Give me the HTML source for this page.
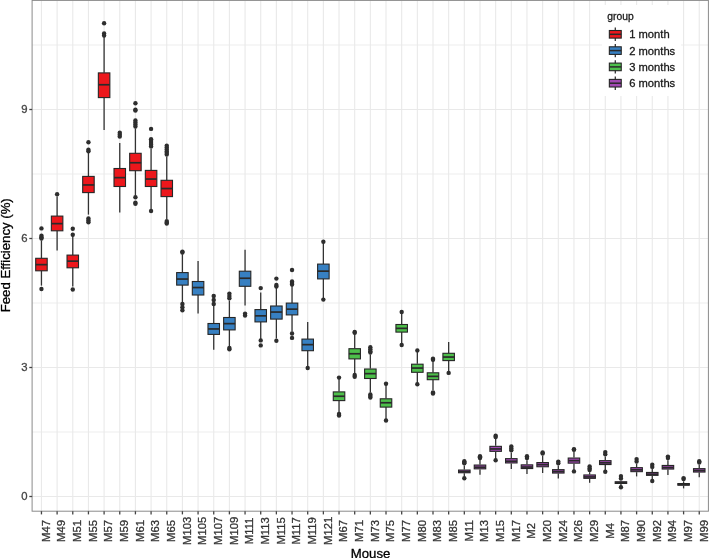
<!DOCTYPE html><html><head><meta charset="utf-8"><style>html,body{margin:0;padding:0;background:#fff}svg{display:block;will-change:transform}text{font-family:"Liberation Sans",sans-serif}.t{stroke-width:0.3px}</style></head><body>
<svg width="709" height="558" viewBox="0 0 709 558">
<rect x="0" y="0" width="709" height="558" fill="#fff"/>
<line x1="32.1" x2="708.4" y1="432.00" y2="432.00" stroke="#EDEDED" stroke-width="1"/>
<line x1="32.1" x2="708.4" y1="303.00" y2="303.00" stroke="#EDEDED" stroke-width="1"/>
<line x1="32.1" x2="708.4" y1="174.00" y2="174.00" stroke="#EDEDED" stroke-width="1"/>
<line x1="32.1" x2="708.4" y1="45.00" y2="45.00" stroke="#EDEDED" stroke-width="1"/>
<line x1="32.1" x2="708.4" y1="496.50" y2="496.50" stroke="#E9E9E9" stroke-width="1.1"/>
<line x1="32.1" x2="708.4" y1="367.50" y2="367.50" stroke="#E9E9E9" stroke-width="1.1"/>
<line x1="32.1" x2="708.4" y1="238.50" y2="238.50" stroke="#E9E9E9" stroke-width="1.1"/>
<line x1="32.1" x2="708.4" y1="109.50" y2="109.50" stroke="#E9E9E9" stroke-width="1.1"/>
<line x1="41.45" x2="41.45" y1="0.4" y2="511.2" stroke="#E9E9E9" stroke-width="1.1"/>
<line x1="57.11" x2="57.11" y1="0.4" y2="511.2" stroke="#E9E9E9" stroke-width="1.1"/>
<line x1="72.77" x2="72.77" y1="0.4" y2="511.2" stroke="#E9E9E9" stroke-width="1.1"/>
<line x1="88.44" x2="88.44" y1="0.4" y2="511.2" stroke="#E9E9E9" stroke-width="1.1"/>
<line x1="104.10" x2="104.10" y1="0.4" y2="511.2" stroke="#E9E9E9" stroke-width="1.1"/>
<line x1="119.76" x2="119.76" y1="0.4" y2="511.2" stroke="#E9E9E9" stroke-width="1.1"/>
<line x1="135.42" x2="135.42" y1="0.4" y2="511.2" stroke="#E9E9E9" stroke-width="1.1"/>
<line x1="151.08" x2="151.08" y1="0.4" y2="511.2" stroke="#E9E9E9" stroke-width="1.1"/>
<line x1="166.75" x2="166.75" y1="0.4" y2="511.2" stroke="#E9E9E9" stroke-width="1.1"/>
<line x1="182.41" x2="182.41" y1="0.4" y2="511.2" stroke="#E9E9E9" stroke-width="1.1"/>
<line x1="198.07" x2="198.07" y1="0.4" y2="511.2" stroke="#E9E9E9" stroke-width="1.1"/>
<line x1="213.73" x2="213.73" y1="0.4" y2="511.2" stroke="#E9E9E9" stroke-width="1.1"/>
<line x1="229.39" x2="229.39" y1="0.4" y2="511.2" stroke="#E9E9E9" stroke-width="1.1"/>
<line x1="245.06" x2="245.06" y1="0.4" y2="511.2" stroke="#E9E9E9" stroke-width="1.1"/>
<line x1="260.72" x2="260.72" y1="0.4" y2="511.2" stroke="#E9E9E9" stroke-width="1.1"/>
<line x1="276.38" x2="276.38" y1="0.4" y2="511.2" stroke="#E9E9E9" stroke-width="1.1"/>
<line x1="292.04" x2="292.04" y1="0.4" y2="511.2" stroke="#E9E9E9" stroke-width="1.1"/>
<line x1="307.70" x2="307.70" y1="0.4" y2="511.2" stroke="#E9E9E9" stroke-width="1.1"/>
<line x1="323.37" x2="323.37" y1="0.4" y2="511.2" stroke="#E9E9E9" stroke-width="1.1"/>
<line x1="339.03" x2="339.03" y1="0.4" y2="511.2" stroke="#E9E9E9" stroke-width="1.1"/>
<line x1="354.69" x2="354.69" y1="0.4" y2="511.2" stroke="#E9E9E9" stroke-width="1.1"/>
<line x1="370.35" x2="370.35" y1="0.4" y2="511.2" stroke="#E9E9E9" stroke-width="1.1"/>
<line x1="386.01" x2="386.01" y1="0.4" y2="511.2" stroke="#E9E9E9" stroke-width="1.1"/>
<line x1="401.68" x2="401.68" y1="0.4" y2="511.2" stroke="#E9E9E9" stroke-width="1.1"/>
<line x1="417.34" x2="417.34" y1="0.4" y2="511.2" stroke="#E9E9E9" stroke-width="1.1"/>
<line x1="433.00" x2="433.00" y1="0.4" y2="511.2" stroke="#E9E9E9" stroke-width="1.1"/>
<line x1="448.66" x2="448.66" y1="0.4" y2="511.2" stroke="#E9E9E9" stroke-width="1.1"/>
<line x1="464.32" x2="464.32" y1="0.4" y2="511.2" stroke="#E9E9E9" stroke-width="1.1"/>
<line x1="479.99" x2="479.99" y1="0.4" y2="511.2" stroke="#E9E9E9" stroke-width="1.1"/>
<line x1="495.65" x2="495.65" y1="0.4" y2="511.2" stroke="#E9E9E9" stroke-width="1.1"/>
<line x1="511.31" x2="511.31" y1="0.4" y2="511.2" stroke="#E9E9E9" stroke-width="1.1"/>
<line x1="526.97" x2="526.97" y1="0.4" y2="511.2" stroke="#E9E9E9" stroke-width="1.1"/>
<line x1="542.63" x2="542.63" y1="0.4" y2="511.2" stroke="#E9E9E9" stroke-width="1.1"/>
<line x1="558.30" x2="558.30" y1="0.4" y2="511.2" stroke="#E9E9E9" stroke-width="1.1"/>
<line x1="573.96" x2="573.96" y1="0.4" y2="511.2" stroke="#E9E9E9" stroke-width="1.1"/>
<line x1="589.62" x2="589.62" y1="0.4" y2="511.2" stroke="#E9E9E9" stroke-width="1.1"/>
<line x1="605.28" x2="605.28" y1="0.4" y2="511.2" stroke="#E9E9E9" stroke-width="1.1"/>
<line x1="620.94" x2="620.94" y1="0.4" y2="511.2" stroke="#E9E9E9" stroke-width="1.1"/>
<line x1="636.61" x2="636.61" y1="0.4" y2="511.2" stroke="#E9E9E9" stroke-width="1.1"/>
<line x1="652.27" x2="652.27" y1="0.4" y2="511.2" stroke="#E9E9E9" stroke-width="1.1"/>
<line x1="667.93" x2="667.93" y1="0.4" y2="511.2" stroke="#E9E9E9" stroke-width="1.1"/>
<line x1="683.59" x2="683.59" y1="0.4" y2="511.2" stroke="#E9E9E9" stroke-width="1.1"/>
<line x1="699.25" x2="699.25" y1="0.4" y2="511.2" stroke="#E9E9E9" stroke-width="1.1"/>
<line x1="41.45" x2="41.45" y1="240.5" y2="258.2" stroke="#333" stroke-width="1.3"/>
<line x1="41.45" x2="41.45" y1="270.4" y2="285.6" stroke="#333" stroke-width="1.3"/>
<rect x="35.70" y="258.30" width="11.5" height="12.50" fill="#EC171C" stroke="#262626" stroke-width="1.1"/>
<line x1="35.70" x2="47.20" y1="264.65" y2="264.65" stroke="#2a2a2a" stroke-width="1.7"/>
<circle cx="41.45" cy="228.4" r="2.2" fill="#2e2e2e"/>
<circle cx="41.45" cy="235.8" r="2.2" fill="#2e2e2e"/>
<circle cx="41.45" cy="237.2" r="2.2" fill="#2e2e2e"/>
<circle cx="41.45" cy="238.5" r="2.2" fill="#2e2e2e"/>
<circle cx="41.45" cy="289" r="2.2" fill="#2e2e2e"/>
<line x1="57.11" x2="57.11" y1="196.5" y2="216" stroke="#333" stroke-width="1.3"/>
<line x1="57.11" x2="57.11" y1="230.4" y2="250.5" stroke="#333" stroke-width="1.3"/>
<rect x="51.36" y="216.10" width="11.5" height="14.70" fill="#EC171C" stroke="#262626" stroke-width="1.1"/>
<line x1="51.36" x2="62.86" y1="223.65" y2="223.65" stroke="#2a2a2a" stroke-width="1.7"/>
<circle cx="57.11" cy="194.3" r="2.2" fill="#2e2e2e"/>
<line x1="72.77" x2="72.77" y1="235" y2="255" stroke="#333" stroke-width="1.3"/>
<line x1="72.77" x2="72.77" y1="267.4" y2="286.6" stroke="#333" stroke-width="1.3"/>
<rect x="67.02" y="255.10" width="11.5" height="12.70" fill="#EC171C" stroke="#262626" stroke-width="1.1"/>
<line x1="67.02" x2="78.52" y1="261.15" y2="261.15" stroke="#2a2a2a" stroke-width="1.7"/>
<circle cx="72.77" cy="228.8" r="2.2" fill="#2e2e2e"/>
<circle cx="72.77" cy="234.7" r="2.2" fill="#2e2e2e"/>
<circle cx="72.77" cy="289.5" r="2.2" fill="#2e2e2e"/>
<line x1="88.44" x2="88.44" y1="153" y2="176.3" stroke="#333" stroke-width="1.3"/>
<line x1="88.44" x2="88.44" y1="192.2" y2="214.6" stroke="#333" stroke-width="1.3"/>
<rect x="82.69" y="176.40" width="11.5" height="16.20" fill="#EC171C" stroke="#262626" stroke-width="1.1"/>
<line x1="82.69" x2="94.19" y1="184.95" y2="184.95" stroke="#2a2a2a" stroke-width="1.7"/>
<circle cx="88.44" cy="142.3" r="2.2" fill="#2e2e2e"/>
<circle cx="88.44" cy="149.8" r="2.2" fill="#2e2e2e"/>
<circle cx="88.44" cy="151.3" r="2.2" fill="#2e2e2e"/>
<circle cx="88.44" cy="218.4" r="2.2" fill="#2e2e2e"/>
<circle cx="88.44" cy="220.5" r="2.2" fill="#2e2e2e"/>
<circle cx="88.44" cy="222.2" r="2.2" fill="#2e2e2e"/>
<line x1="104.10" x2="104.10" y1="36" y2="72.8" stroke="#333" stroke-width="1.3"/>
<line x1="104.10" x2="104.10" y1="97.2" y2="130.1" stroke="#333" stroke-width="1.3"/>
<rect x="98.35" y="72.90" width="11.5" height="24.70" fill="#EC171C" stroke="#262626" stroke-width="1.1"/>
<line x1="98.35" x2="109.85" y1="84.75" y2="84.75" stroke="#2a2a2a" stroke-width="1.7"/>
<circle cx="104.10" cy="23.3" r="2.2" fill="#2e2e2e"/>
<circle cx="104.10" cy="33.5" r="2.2" fill="#2e2e2e"/>
<circle cx="104.10" cy="35.5" r="2.2" fill="#2e2e2e"/>
<line x1="119.76" x2="119.76" y1="142.9" y2="168.4" stroke="#333" stroke-width="1.3"/>
<line x1="119.76" x2="119.76" y1="186.1" y2="212.6" stroke="#333" stroke-width="1.3"/>
<rect x="114.01" y="168.50" width="11.5" height="18.00" fill="#EC171C" stroke="#262626" stroke-width="1.1"/>
<line x1="114.01" x2="125.51" y1="177.65" y2="177.65" stroke="#2a2a2a" stroke-width="1.7"/>
<circle cx="119.76" cy="132.7" r="2.2" fill="#2e2e2e"/>
<circle cx="119.76" cy="134.7" r="2.2" fill="#2e2e2e"/>
<circle cx="119.76" cy="136.6" r="2.2" fill="#2e2e2e"/>
<line x1="135.42" x2="135.42" y1="128.5" y2="153.2" stroke="#333" stroke-width="1.3"/>
<line x1="135.42" x2="135.42" y1="170.3" y2="195.6" stroke="#333" stroke-width="1.3"/>
<rect x="129.67" y="153.30" width="11.5" height="17.40" fill="#EC171C" stroke="#262626" stroke-width="1.1"/>
<line x1="129.67" x2="141.17" y1="162.75" y2="162.75" stroke="#2a2a2a" stroke-width="1.7"/>
<circle cx="135.42" cy="103.3" r="2.2" fill="#2e2e2e"/>
<circle cx="135.42" cy="109.8" r="2.2" fill="#2e2e2e"/>
<circle cx="135.42" cy="110.6" r="2.2" fill="#2e2e2e"/>
<circle cx="135.42" cy="120.5" r="2.2" fill="#2e2e2e"/>
<circle cx="135.42" cy="122.5" r="2.2" fill="#2e2e2e"/>
<circle cx="135.42" cy="124.5" r="2.2" fill="#2e2e2e"/>
<circle cx="135.42" cy="126.5" r="2.2" fill="#2e2e2e"/>
<circle cx="135.42" cy="197.3" r="2.2" fill="#2e2e2e"/>
<circle cx="135.42" cy="202.8" r="2.2" fill="#2e2e2e"/>
<circle cx="135.42" cy="203.8" r="2.2" fill="#2e2e2e"/>
<line x1="151.08" x2="151.08" y1="148.4" y2="170.3" stroke="#333" stroke-width="1.3"/>
<line x1="151.08" x2="151.08" y1="186.1" y2="209" stroke="#333" stroke-width="1.3"/>
<rect x="145.33" y="170.40" width="11.5" height="16.10" fill="#EC171C" stroke="#262626" stroke-width="1.1"/>
<line x1="145.33" x2="156.83" y1="179.05" y2="179.05" stroke="#2a2a2a" stroke-width="1.7"/>
<circle cx="151.08" cy="128.9" r="2.2" fill="#2e2e2e"/>
<circle cx="151.08" cy="139.2" r="2.2" fill="#2e2e2e"/>
<circle cx="151.08" cy="141" r="2.2" fill="#2e2e2e"/>
<circle cx="151.08" cy="143" r="2.2" fill="#2e2e2e"/>
<circle cx="151.08" cy="144.8" r="2.2" fill="#2e2e2e"/>
<circle cx="151.08" cy="146.4" r="2.2" fill="#2e2e2e"/>
<circle cx="151.08" cy="211" r="2.2" fill="#2e2e2e"/>
<line x1="166.75" x2="166.75" y1="156.8" y2="180.2" stroke="#333" stroke-width="1.3"/>
<line x1="166.75" x2="166.75" y1="196.2" y2="219" stroke="#333" stroke-width="1.3"/>
<rect x="161.00" y="180.30" width="11.5" height="16.30" fill="#EC171C" stroke="#262626" stroke-width="1.1"/>
<line x1="161.00" x2="172.50" y1="188.55" y2="188.55" stroke="#2a2a2a" stroke-width="1.7"/>
<circle cx="166.75" cy="145.6" r="2.2" fill="#2e2e2e"/>
<circle cx="166.75" cy="147.5" r="2.2" fill="#2e2e2e"/>
<circle cx="166.75" cy="149.5" r="2.2" fill="#2e2e2e"/>
<circle cx="166.75" cy="151.5" r="2.2" fill="#2e2e2e"/>
<circle cx="166.75" cy="153" r="2.2" fill="#2e2e2e"/>
<circle cx="166.75" cy="154.6" r="2.2" fill="#2e2e2e"/>
<circle cx="166.75" cy="221.1" r="2.2" fill="#2e2e2e"/>
<circle cx="166.75" cy="222.4" r="2.2" fill="#2e2e2e"/>
<circle cx="166.75" cy="223.6" r="2.2" fill="#2e2e2e"/>
<line x1="182.41" x2="182.41" y1="254.2" y2="272.5" stroke="#333" stroke-width="1.3"/>
<line x1="182.41" x2="182.41" y1="284.7" y2="302" stroke="#333" stroke-width="1.3"/>
<rect x="176.66" y="272.60" width="11.5" height="12.50" fill="#3780C2" stroke="#262626" stroke-width="1.1"/>
<line x1="176.66" x2="188.16" y1="279.05" y2="279.05" stroke="#2a2a2a" stroke-width="1.7"/>
<circle cx="182.41" cy="251.6" r="2.2" fill="#2e2e2e"/>
<circle cx="182.41" cy="252.6" r="2.2" fill="#2e2e2e"/>
<circle cx="182.41" cy="304" r="2.2" fill="#2e2e2e"/>
<circle cx="182.41" cy="307.3" r="2.2" fill="#2e2e2e"/>
<circle cx="182.41" cy="310.2" r="2.2" fill="#2e2e2e"/>
<line x1="198.07" x2="198.07" y1="261" y2="281.4" stroke="#333" stroke-width="1.3"/>
<line x1="198.07" x2="198.07" y1="294.6" y2="313.5" stroke="#333" stroke-width="1.3"/>
<rect x="192.32" y="281.50" width="11.5" height="13.50" fill="#3780C2" stroke="#262626" stroke-width="1.1"/>
<line x1="192.32" x2="203.82" y1="287.55" y2="287.55" stroke="#2a2a2a" stroke-width="1.7"/>
<line x1="213.73" x2="213.73" y1="306" y2="323.4" stroke="#333" stroke-width="1.3"/>
<line x1="213.73" x2="213.73" y1="334" y2="349.7" stroke="#333" stroke-width="1.3"/>
<rect x="207.98" y="323.50" width="11.5" height="10.90" fill="#3780C2" stroke="#262626" stroke-width="1.1"/>
<line x1="207.98" x2="219.48" y1="328.95" y2="328.95" stroke="#2a2a2a" stroke-width="1.7"/>
<circle cx="213.73" cy="296" r="2.2" fill="#2e2e2e"/>
<circle cx="213.73" cy="300" r="2.2" fill="#2e2e2e"/>
<circle cx="213.73" cy="304" r="2.2" fill="#2e2e2e"/>
<line x1="229.39" x2="229.39" y1="300.5" y2="317.4" stroke="#333" stroke-width="1.3"/>
<line x1="229.39" x2="229.39" y1="329.5" y2="346" stroke="#333" stroke-width="1.3"/>
<rect x="223.64" y="317.50" width="11.5" height="12.40" fill="#3780C2" stroke="#262626" stroke-width="1.1"/>
<line x1="223.64" x2="235.14" y1="323.65" y2="323.65" stroke="#2a2a2a" stroke-width="1.7"/>
<circle cx="229.39" cy="293.6" r="2.2" fill="#2e2e2e"/>
<circle cx="229.39" cy="296" r="2.2" fill="#2e2e2e"/>
<circle cx="229.39" cy="298.2" r="2.2" fill="#2e2e2e"/>
<circle cx="229.39" cy="347.9" r="2.2" fill="#2e2e2e"/>
<circle cx="229.39" cy="349.3" r="2.2" fill="#2e2e2e"/>
<line x1="245.06" x2="245.06" y1="249.8" y2="271.1" stroke="#333" stroke-width="1.3"/>
<line x1="245.06" x2="245.06" y1="285.9" y2="305.6" stroke="#333" stroke-width="1.3"/>
<rect x="239.31" y="271.20" width="11.5" height="15.10" fill="#3780C2" stroke="#262626" stroke-width="1.1"/>
<line x1="239.31" x2="250.81" y1="278.25" y2="278.25" stroke="#2a2a2a" stroke-width="1.7"/>
<circle cx="245.06" cy="313.6" r="2.2" fill="#2e2e2e"/>
<circle cx="245.06" cy="315.6" r="2.2" fill="#2e2e2e"/>
<line x1="260.72" x2="260.72" y1="292.5" y2="309.5" stroke="#333" stroke-width="1.3"/>
<line x1="260.72" x2="260.72" y1="321.5" y2="339.4" stroke="#333" stroke-width="1.3"/>
<rect x="254.97" y="309.60" width="11.5" height="12.30" fill="#3780C2" stroke="#262626" stroke-width="1.1"/>
<line x1="254.97" x2="266.47" y1="315.85" y2="315.85" stroke="#2a2a2a" stroke-width="1.7"/>
<circle cx="260.72" cy="288.1" r="2.2" fill="#2e2e2e"/>
<circle cx="260.72" cy="340.4" r="2.2" fill="#2e2e2e"/>
<circle cx="260.72" cy="345.4" r="2.2" fill="#2e2e2e"/>
<line x1="276.38" x2="276.38" y1="287.7" y2="305.9" stroke="#333" stroke-width="1.3"/>
<line x1="276.38" x2="276.38" y1="318.7" y2="338.5" stroke="#333" stroke-width="1.3"/>
<rect x="270.63" y="306.00" width="11.5" height="13.10" fill="#3780C2" stroke="#262626" stroke-width="1.1"/>
<line x1="270.63" x2="282.13" y1="312.05" y2="312.05" stroke="#2a2a2a" stroke-width="1.7"/>
<circle cx="276.38" cy="278.6" r="2.2" fill="#2e2e2e"/>
<circle cx="276.38" cy="285" r="2.2" fill="#2e2e2e"/>
<circle cx="276.38" cy="286.5" r="2.2" fill="#2e2e2e"/>
<circle cx="276.38" cy="340.8" r="2.2" fill="#2e2e2e"/>
<line x1="292.04" x2="292.04" y1="286" y2="303" stroke="#333" stroke-width="1.3"/>
<line x1="292.04" x2="292.04" y1="314.5" y2="331.5" stroke="#333" stroke-width="1.3"/>
<rect x="286.29" y="303.10" width="11.5" height="11.80" fill="#3780C2" stroke="#262626" stroke-width="1.1"/>
<line x1="286.29" x2="297.79" y1="309.15" y2="309.15" stroke="#2a2a2a" stroke-width="1.7"/>
<circle cx="292.04" cy="270" r="2.2" fill="#2e2e2e"/>
<circle cx="292.04" cy="281.5" r="2.2" fill="#2e2e2e"/>
<circle cx="292.04" cy="283" r="2.2" fill="#2e2e2e"/>
<circle cx="292.04" cy="284.5" r="2.2" fill="#2e2e2e"/>
<circle cx="292.04" cy="333.5" r="2.2" fill="#2e2e2e"/>
<circle cx="292.04" cy="337.9" r="2.2" fill="#2e2e2e"/>
<line x1="307.70" x2="307.70" y1="322" y2="339" stroke="#333" stroke-width="1.3"/>
<line x1="307.70" x2="307.70" y1="350.3" y2="367" stroke="#333" stroke-width="1.3"/>
<rect x="301.95" y="339.10" width="11.5" height="11.60" fill="#3780C2" stroke="#262626" stroke-width="1.1"/>
<line x1="301.95" x2="313.45" y1="344.65" y2="344.65" stroke="#2a2a2a" stroke-width="1.7"/>
<circle cx="307.70" cy="368" r="2.2" fill="#2e2e2e"/>
<line x1="323.37" x2="323.37" y1="242" y2="264" stroke="#333" stroke-width="1.3"/>
<line x1="323.37" x2="323.37" y1="278.5" y2="299" stroke="#333" stroke-width="1.3"/>
<rect x="317.62" y="264.10" width="11.5" height="14.80" fill="#3780C2" stroke="#262626" stroke-width="1.1"/>
<line x1="317.62" x2="329.12" y1="271.15" y2="271.15" stroke="#2a2a2a" stroke-width="1.7"/>
<circle cx="323.37" cy="241.8" r="2.2" fill="#2e2e2e"/>
<circle cx="323.37" cy="299.6" r="2.2" fill="#2e2e2e"/>
<line x1="339.03" x2="339.03" y1="379" y2="391.5" stroke="#333" stroke-width="1.3"/>
<line x1="339.03" x2="339.03" y1="400.5" y2="411.9" stroke="#333" stroke-width="1.3"/>
<rect x="333.28" y="391.90" width="11.5" height="8.70" fill="#4DBF4A" stroke="#262626" stroke-width="1.1"/>
<line x1="333.28" x2="344.78" y1="396.25" y2="396.25" stroke="#2a2a2a" stroke-width="1.7"/>
<circle cx="339.03" cy="377.6" r="2.2" fill="#2e2e2e"/>
<circle cx="339.03" cy="414" r="2.2" fill="#2e2e2e"/>
<circle cx="339.03" cy="415.5" r="2.2" fill="#2e2e2e"/>
<line x1="354.69" x2="354.69" y1="333" y2="348.3" stroke="#333" stroke-width="1.3"/>
<line x1="354.69" x2="354.69" y1="358.8" y2="374" stroke="#333" stroke-width="1.3"/>
<rect x="348.94" y="348.70" width="11.5" height="10.20" fill="#4DBF4A" stroke="#262626" stroke-width="1.1"/>
<line x1="348.94" x2="360.44" y1="353.75" y2="353.75" stroke="#2a2a2a" stroke-width="1.7"/>
<circle cx="354.69" cy="332" r="2.2" fill="#2e2e2e"/>
<circle cx="354.69" cy="332.8" r="2.2" fill="#2e2e2e"/>
<circle cx="354.69" cy="375" r="2.2" fill="#2e2e2e"/>
<circle cx="354.69" cy="376.8" r="2.2" fill="#2e2e2e"/>
<line x1="370.35" x2="370.35" y1="354.5" y2="368.6" stroke="#333" stroke-width="1.3"/>
<line x1="370.35" x2="370.35" y1="378.4" y2="392.5" stroke="#333" stroke-width="1.3"/>
<rect x="364.60" y="369.00" width="11.5" height="9.50" fill="#4DBF4A" stroke="#262626" stroke-width="1.1"/>
<line x1="364.60" x2="376.10" y1="373.65" y2="373.65" stroke="#2a2a2a" stroke-width="1.7"/>
<circle cx="370.35" cy="347.3" r="2.2" fill="#2e2e2e"/>
<circle cx="370.35" cy="349.3" r="2.2" fill="#2e2e2e"/>
<circle cx="370.35" cy="351.3" r="2.2" fill="#2e2e2e"/>
<circle cx="370.35" cy="352.5" r="2.2" fill="#2e2e2e"/>
<circle cx="370.35" cy="394.5" r="2.2" fill="#2e2e2e"/>
<circle cx="370.35" cy="396" r="2.2" fill="#2e2e2e"/>
<circle cx="370.35" cy="397.5" r="2.2" fill="#2e2e2e"/>
<line x1="386.01" x2="386.01" y1="385" y2="398.4" stroke="#333" stroke-width="1.3"/>
<line x1="386.01" x2="386.01" y1="407" y2="418.9" stroke="#333" stroke-width="1.3"/>
<rect x="380.26" y="398.80" width="11.5" height="8.30" fill="#4DBF4A" stroke="#262626" stroke-width="1.1"/>
<line x1="380.26" x2="391.76" y1="402.75" y2="402.75" stroke="#2a2a2a" stroke-width="1.7"/>
<circle cx="386.01" cy="383.7" r="2.2" fill="#2e2e2e"/>
<circle cx="386.01" cy="420.5" r="2.2" fill="#2e2e2e"/>
<line x1="401.68" x2="401.68" y1="312" y2="324.1" stroke="#333" stroke-width="1.3"/>
<line x1="401.68" x2="401.68" y1="332" y2="344.6" stroke="#333" stroke-width="1.3"/>
<rect x="395.93" y="324.50" width="11.5" height="7.60" fill="#4DBF4A" stroke="#262626" stroke-width="1.1"/>
<line x1="395.93" x2="407.43" y1="328.35" y2="328.35" stroke="#2a2a2a" stroke-width="1.7"/>
<circle cx="401.68" cy="312" r="2.2" fill="#2e2e2e"/>
<circle cx="401.68" cy="345" r="2.2" fill="#2e2e2e"/>
<line x1="417.34" x2="417.34" y1="350.4" y2="363.8" stroke="#333" stroke-width="1.3"/>
<line x1="417.34" x2="417.34" y1="372.2" y2="384.3" stroke="#333" stroke-width="1.3"/>
<rect x="411.59" y="364.20" width="11.5" height="8.10" fill="#4DBF4A" stroke="#262626" stroke-width="1.1"/>
<line x1="411.59" x2="423.09" y1="368.05" y2="368.05" stroke="#2a2a2a" stroke-width="1.7"/>
<circle cx="417.34" cy="350.4" r="2.2" fill="#2e2e2e"/>
<circle cx="417.34" cy="384.3" r="2.2" fill="#2e2e2e"/>
<line x1="433.00" x2="433.00" y1="360.5" y2="372.4" stroke="#333" stroke-width="1.3"/>
<line x1="433.00" x2="433.00" y1="379.6" y2="390" stroke="#333" stroke-width="1.3"/>
<rect x="427.25" y="372.80" width="11.5" height="6.90" fill="#4DBF4A" stroke="#262626" stroke-width="1.1"/>
<line x1="427.25" x2="438.75" y1="376.35" y2="376.35" stroke="#2a2a2a" stroke-width="1.7"/>
<circle cx="433.00" cy="358.8" r="2.2" fill="#2e2e2e"/>
<circle cx="433.00" cy="359.8" r="2.2" fill="#2e2e2e"/>
<circle cx="433.00" cy="392.5" r="2.2" fill="#2e2e2e"/>
<circle cx="433.00" cy="393.5" r="2.2" fill="#2e2e2e"/>
<line x1="448.66" x2="448.66" y1="341.9" y2="352.9" stroke="#333" stroke-width="1.3"/>
<line x1="448.66" x2="448.66" y1="360.5" y2="371.8" stroke="#333" stroke-width="1.3"/>
<rect x="442.91" y="353.30" width="11.5" height="7.30" fill="#4DBF4A" stroke="#262626" stroke-width="1.1"/>
<line x1="442.91" x2="454.41" y1="357.05" y2="357.05" stroke="#2a2a2a" stroke-width="1.7"/>
<circle cx="448.66" cy="372.9" r="2.2" fill="#2e2e2e"/>
<line x1="464.32" x2="464.32" y1="465.6" y2="469.5" stroke="#333" stroke-width="1.3"/>
<line x1="464.32" x2="464.32" y1="473.3" y2="476.4" stroke="#333" stroke-width="1.3"/>
<rect x="458.57" y="470.05" width="11.5" height="2.70" fill="#A148B2" stroke="#262626" stroke-width="1.1"/>
<line x1="458.57" x2="470.07" y1="471.65" y2="471.65" stroke="#2a2a2a" stroke-width="1.7"/>
<circle cx="464.32" cy="461.3" r="2.2" fill="#2e2e2e"/>
<circle cx="464.32" cy="462.5" r="2.2" fill="#2e2e2e"/>
<circle cx="464.32" cy="463.3" r="2.2" fill="#2e2e2e"/>
<circle cx="464.32" cy="478.2" r="2.2" fill="#2e2e2e"/>
<line x1="479.99" x2="479.99" y1="460" y2="464.5" stroke="#333" stroke-width="1.3"/>
<line x1="479.99" x2="479.99" y1="469.4" y2="474.7" stroke="#333" stroke-width="1.3"/>
<rect x="474.24" y="465.05" width="11.5" height="3.80" fill="#A148B2" stroke="#262626" stroke-width="1.1"/>
<line x1="474.24" x2="485.74" y1="467.25" y2="467.25" stroke="#2a2a2a" stroke-width="1.7"/>
<circle cx="479.99" cy="456.3" r="2.2" fill="#2e2e2e"/>
<circle cx="479.99" cy="457.3" r="2.2" fill="#2e2e2e"/>
<circle cx="479.99" cy="458" r="2.2" fill="#2e2e2e"/>
<line x1="495.65" x2="495.65" y1="439" y2="445.8" stroke="#333" stroke-width="1.3"/>
<line x1="495.65" x2="495.65" y1="451.9" y2="458.9" stroke="#333" stroke-width="1.3"/>
<rect x="489.90" y="446.35" width="11.5" height="5.00" fill="#A148B2" stroke="#262626" stroke-width="1.1"/>
<line x1="489.90" x2="501.40" y1="448.95" y2="448.95" stroke="#2a2a2a" stroke-width="1.7"/>
<circle cx="495.65" cy="435.8" r="2.2" fill="#2e2e2e"/>
<circle cx="495.65" cy="437" r="2.2" fill="#2e2e2e"/>
<circle cx="495.65" cy="460.2" r="2.2" fill="#2e2e2e"/>
<line x1="511.31" x2="511.31" y1="452.5" y2="458.1" stroke="#333" stroke-width="1.3"/>
<line x1="511.31" x2="511.31" y1="463.5" y2="469" stroke="#333" stroke-width="1.3"/>
<rect x="505.56" y="458.65" width="11.5" height="4.30" fill="#A148B2" stroke="#262626" stroke-width="1.1"/>
<line x1="505.56" x2="517.06" y1="461.25" y2="461.25" stroke="#2a2a2a" stroke-width="1.7"/>
<circle cx="511.31" cy="446.5" r="2.2" fill="#2e2e2e"/>
<circle cx="511.31" cy="448.5" r="2.2" fill="#2e2e2e"/>
<circle cx="511.31" cy="450.3" r="2.2" fill="#2e2e2e"/>
<line x1="526.97" x2="526.97" y1="460.3" y2="464.3" stroke="#333" stroke-width="1.3"/>
<line x1="526.97" x2="526.97" y1="469.1" y2="474.1" stroke="#333" stroke-width="1.3"/>
<rect x="521.22" y="464.85" width="11.5" height="3.70" fill="#A148B2" stroke="#262626" stroke-width="1.1"/>
<line x1="521.22" x2="532.72" y1="467.05" y2="467.05" stroke="#2a2a2a" stroke-width="1.7"/>
<circle cx="526.97" cy="456.3" r="2.2" fill="#2e2e2e"/>
<circle cx="526.97" cy="458.1" r="2.2" fill="#2e2e2e"/>
<line x1="542.63" x2="542.63" y1="455.8" y2="462" stroke="#333" stroke-width="1.3"/>
<line x1="542.63" x2="542.63" y1="467.3" y2="473" stroke="#333" stroke-width="1.3"/>
<rect x="536.88" y="462.55" width="11.5" height="4.20" fill="#A148B2" stroke="#262626" stroke-width="1.1"/>
<line x1="536.88" x2="548.38" y1="464.65" y2="464.65" stroke="#2a2a2a" stroke-width="1.7"/>
<circle cx="542.63" cy="452.4" r="2.2" fill="#2e2e2e"/>
<circle cx="542.63" cy="453.6" r="2.2" fill="#2e2e2e"/>
<line x1="558.30" x2="558.30" y1="465.4" y2="469.1" stroke="#333" stroke-width="1.3"/>
<line x1="558.30" x2="558.30" y1="473.6" y2="478.6" stroke="#333" stroke-width="1.3"/>
<rect x="552.55" y="469.65" width="11.5" height="3.40" fill="#A148B2" stroke="#262626" stroke-width="1.1"/>
<line x1="552.55" x2="564.05" y1="471.55" y2="471.55" stroke="#2a2a2a" stroke-width="1.7"/>
<circle cx="558.30" cy="461.6" r="2.2" fill="#2e2e2e"/>
<circle cx="558.30" cy="463.2" r="2.2" fill="#2e2e2e"/>
<line x1="573.96" x2="573.96" y1="451.9" y2="457.5" stroke="#333" stroke-width="1.3"/>
<line x1="573.96" x2="573.96" y1="463.7" y2="470" stroke="#333" stroke-width="1.3"/>
<rect x="568.21" y="458.05" width="11.5" height="5.10" fill="#A148B2" stroke="#262626" stroke-width="1.1"/>
<line x1="568.21" x2="579.71" y1="460.65" y2="460.65" stroke="#2a2a2a" stroke-width="1.7"/>
<circle cx="573.96" cy="449.2" r="2.2" fill="#2e2e2e"/>
<circle cx="573.96" cy="449.7" r="2.2" fill="#2e2e2e"/>
<circle cx="573.96" cy="471.4" r="2.2" fill="#2e2e2e"/>
<line x1="589.62" x2="589.62" y1="472.2" y2="474.4" stroke="#333" stroke-width="1.3"/>
<line x1="589.62" x2="589.62" y1="478.9" y2="482.8" stroke="#333" stroke-width="1.3"/>
<rect x="583.87" y="474.95" width="11.5" height="3.40" fill="#A148B2" stroke="#262626" stroke-width="1.1"/>
<line x1="583.87" x2="595.37" y1="476.95" y2="476.95" stroke="#2a2a2a" stroke-width="1.7"/>
<circle cx="589.62" cy="466.5" r="2.2" fill="#2e2e2e"/>
<circle cx="589.62" cy="468.5" r="2.2" fill="#2e2e2e"/>
<circle cx="589.62" cy="470" r="2.2" fill="#2e2e2e"/>
<line x1="605.28" x2="605.28" y1="456.4" y2="460.1" stroke="#333" stroke-width="1.3"/>
<line x1="605.28" x2="605.28" y1="465.1" y2="470.8" stroke="#333" stroke-width="1.3"/>
<rect x="599.53" y="460.65" width="11.5" height="3.90" fill="#A148B2" stroke="#262626" stroke-width="1.1"/>
<line x1="599.53" x2="611.03" y1="462.85" y2="462.85" stroke="#2a2a2a" stroke-width="1.7"/>
<circle cx="605.28" cy="452.1" r="2.2" fill="#2e2e2e"/>
<circle cx="605.28" cy="454.2" r="2.2" fill="#2e2e2e"/>
<circle cx="605.28" cy="471.7" r="2.2" fill="#2e2e2e"/>
<line x1="620.94" x2="620.94" y1="480.6" y2="481.2" stroke="#333" stroke-width="1.3"/>
<line x1="620.94" x2="620.94" y1="484" y2="486.5" stroke="#333" stroke-width="1.3"/>
<rect x="615.19" y="481.75" width="11.5" height="1.70" fill="#A148B2" stroke="#262626" stroke-width="1.1"/>
<line x1="615.19" x2="626.69" y1="482.85" y2="482.85" stroke="#2a2a2a" stroke-width="1.7"/>
<circle cx="620.94" cy="476.1" r="2.2" fill="#2e2e2e"/>
<circle cx="620.94" cy="478.4" r="2.2" fill="#2e2e2e"/>
<circle cx="620.94" cy="487.2" r="2.2" fill="#2e2e2e"/>
<line x1="636.61" x2="636.61" y1="463.7" y2="467.1" stroke="#333" stroke-width="1.3"/>
<line x1="636.61" x2="636.61" y1="472.2" y2="476.4" stroke="#333" stroke-width="1.3"/>
<rect x="630.86" y="467.65" width="11.5" height="4.00" fill="#A148B2" stroke="#262626" stroke-width="1.1"/>
<line x1="630.86" x2="642.36" y1="469.85" y2="469.85" stroke="#2a2a2a" stroke-width="1.7"/>
<circle cx="636.61" cy="459.1" r="2.2" fill="#2e2e2e"/>
<circle cx="636.61" cy="461.5" r="2.2" fill="#2e2e2e"/>
<line x1="652.27" x2="652.27" y1="469.1" y2="471.9" stroke="#333" stroke-width="1.3"/>
<line x1="652.27" x2="652.27" y1="475.9" y2="480.5" stroke="#333" stroke-width="1.3"/>
<rect x="646.52" y="472.45" width="11.5" height="2.90" fill="#A148B2" stroke="#262626" stroke-width="1.1"/>
<line x1="646.52" x2="658.02" y1="474.15" y2="474.15" stroke="#2a2a2a" stroke-width="1.7"/>
<circle cx="652.27" cy="464.8" r="2.2" fill="#2e2e2e"/>
<circle cx="652.27" cy="466.9" r="2.2" fill="#2e2e2e"/>
<circle cx="652.27" cy="481" r="2.2" fill="#2e2e2e"/>
<line x1="667.93" x2="667.93" y1="460.3" y2="464.9" stroke="#333" stroke-width="1.3"/>
<line x1="667.93" x2="667.93" y1="469.6" y2="474.9" stroke="#333" stroke-width="1.3"/>
<rect x="662.18" y="465.45" width="11.5" height="3.60" fill="#A148B2" stroke="#262626" stroke-width="1.1"/>
<line x1="662.18" x2="673.68" y1="467.55" y2="467.55" stroke="#2a2a2a" stroke-width="1.7"/>
<circle cx="667.93" cy="456.6" r="2.2" fill="#2e2e2e"/>
<circle cx="667.93" cy="458.1" r="2.2" fill="#2e2e2e"/>
<line x1="683.59" x2="683.59" y1="481.3" y2="483" stroke="#333" stroke-width="1.3"/>
<line x1="683.59" x2="683.59" y1="485.7" y2="488.4" stroke="#333" stroke-width="1.3"/>
<rect x="677.84" y="483.55" width="11.5" height="1.60" fill="#A148B2" stroke="#262626" stroke-width="1.1"/>
<line x1="677.84" x2="689.34" y1="484.65" y2="484.65" stroke="#2a2a2a" stroke-width="1.7"/>
<circle cx="683.59" cy="478.1" r="2.2" fill="#2e2e2e"/>
<circle cx="683.59" cy="479.1" r="2.2" fill="#2e2e2e"/>
<line x1="699.25" x2="699.25" y1="464.7" y2="468.1" stroke="#333" stroke-width="1.3"/>
<line x1="699.25" x2="699.25" y1="472.6" y2="477.2" stroke="#333" stroke-width="1.3"/>
<rect x="693.50" y="468.65" width="11.5" height="3.40" fill="#A148B2" stroke="#262626" stroke-width="1.1"/>
<line x1="693.50" x2="705.00" y1="470.55" y2="470.55" stroke="#2a2a2a" stroke-width="1.7"/>
<circle cx="699.25" cy="461.3" r="2.2" fill="#2e2e2e"/>
<circle cx="699.25" cy="462.5" r="2.2" fill="#2e2e2e"/>
<rect x="32.1" y="0.4" width="676.30" height="510.80" fill="none" stroke="#8a8a8a" stroke-width="1"/>
<rect x="602" y="5" width="79" height="91" fill="#fff"/>
<text x="607.3" y="20.2" font-size="10.3" fill="#1a1a1a" stroke="#1a1a1a" class="t">group</text>
<line x1="615.3" x2="615.3" y1="27.60" y2="41.00" stroke="#333" stroke-width="1.3"/>
<rect x="609.35" y="30.50" width="11.9" height="7.6" fill="#EC171C" stroke="#262626" stroke-width="1.1"/>
<line x1="609.35" x2="621.25" y1="34.30" y2="34.30" stroke="#2a2a2a" stroke-width="1.5"/>
<text x="629.2" y="38.40" font-size="11.2" fill="#1a1a1a" stroke="#1a1a1a" class="t">1 month</text>
<line x1="615.3" x2="615.3" y1="43.90" y2="57.30" stroke="#333" stroke-width="1.3"/>
<rect x="609.35" y="46.80" width="11.9" height="7.6" fill="#3780C2" stroke="#262626" stroke-width="1.1"/>
<line x1="609.35" x2="621.25" y1="50.60" y2="50.60" stroke="#2a2a2a" stroke-width="1.5"/>
<text x="629.2" y="54.70" font-size="11.2" fill="#1a1a1a" stroke="#1a1a1a" class="t">2 months</text>
<line x1="615.3" x2="615.3" y1="60.20" y2="73.60" stroke="#333" stroke-width="1.3"/>
<rect x="609.35" y="63.10" width="11.9" height="7.6" fill="#4DBF4A" stroke="#262626" stroke-width="1.1"/>
<line x1="609.35" x2="621.25" y1="66.90" y2="66.90" stroke="#2a2a2a" stroke-width="1.5"/>
<text x="629.2" y="71.00" font-size="11.2" fill="#1a1a1a" stroke="#1a1a1a" class="t">3 months</text>
<line x1="615.3" x2="615.3" y1="76.50" y2="89.90" stroke="#333" stroke-width="1.3"/>
<rect x="609.35" y="79.40" width="11.9" height="7.6" fill="#A148B2" stroke="#262626" stroke-width="1.1"/>
<line x1="609.35" x2="621.25" y1="83.20" y2="83.20" stroke="#2a2a2a" stroke-width="1.5"/>
<text x="629.2" y="87.30" font-size="11.2" fill="#1a1a1a" stroke="#1a1a1a" class="t">6 months</text>
<line x1="29.3" x2="32.1" y1="496.50" y2="496.50" stroke="#444" stroke-width="1.3"/>
<text x="27.6" y="500.00" font-size="11.3" fill="#444" stroke="#444" class="t" text-anchor="end">0</text>
<line x1="29.3" x2="32.1" y1="367.50" y2="367.50" stroke="#444" stroke-width="1.3"/>
<text x="27.6" y="371.00" font-size="11.3" fill="#444" stroke="#444" class="t" text-anchor="end">3</text>
<line x1="29.3" x2="32.1" y1="238.50" y2="238.50" stroke="#444" stroke-width="1.3"/>
<text x="27.6" y="242.00" font-size="11.3" fill="#444" stroke="#444" class="t" text-anchor="end">6</text>
<line x1="29.3" x2="32.1" y1="109.50" y2="109.50" stroke="#444" stroke-width="1.3"/>
<text x="27.6" y="113.00" font-size="11.3" fill="#444" stroke="#444" class="t" text-anchor="end">9</text>
<line x1="41.45" x2="41.45" y1="511.2" y2="514.4" stroke="#444" stroke-width="1.3"/>
<text transform="translate(49.75,530.9) rotate(-90)" font-size="11.3" fill="#333" stroke="#333" class="t" text-anchor="middle">M47</text>
<line x1="57.11" x2="57.11" y1="511.2" y2="514.4" stroke="#444" stroke-width="1.3"/>
<text transform="translate(65.41,530.9) rotate(-90)" font-size="11.3" fill="#333" stroke="#333" class="t" text-anchor="middle">M49</text>
<line x1="72.77" x2="72.77" y1="511.2" y2="514.4" stroke="#444" stroke-width="1.3"/>
<text transform="translate(81.07,530.9) rotate(-90)" font-size="11.3" fill="#333" stroke="#333" class="t" text-anchor="middle">M51</text>
<line x1="88.44" x2="88.44" y1="511.2" y2="514.4" stroke="#444" stroke-width="1.3"/>
<text transform="translate(96.74,530.9) rotate(-90)" font-size="11.3" fill="#333" stroke="#333" class="t" text-anchor="middle">M55</text>
<line x1="104.10" x2="104.10" y1="511.2" y2="514.4" stroke="#444" stroke-width="1.3"/>
<text transform="translate(112.40,530.9) rotate(-90)" font-size="11.3" fill="#333" stroke="#333" class="t" text-anchor="middle">M57</text>
<line x1="119.76" x2="119.76" y1="511.2" y2="514.4" stroke="#444" stroke-width="1.3"/>
<text transform="translate(128.06,530.9) rotate(-90)" font-size="11.3" fill="#333" stroke="#333" class="t" text-anchor="middle">M59</text>
<line x1="135.42" x2="135.42" y1="511.2" y2="514.4" stroke="#444" stroke-width="1.3"/>
<text transform="translate(143.72,530.9) rotate(-90)" font-size="11.3" fill="#333" stroke="#333" class="t" text-anchor="middle">M61</text>
<line x1="151.08" x2="151.08" y1="511.2" y2="514.4" stroke="#444" stroke-width="1.3"/>
<text transform="translate(159.38,530.9) rotate(-90)" font-size="11.3" fill="#333" stroke="#333" class="t" text-anchor="middle">M63</text>
<line x1="166.75" x2="166.75" y1="511.2" y2="514.4" stroke="#444" stroke-width="1.3"/>
<text transform="translate(175.05,530.9) rotate(-90)" font-size="11.3" fill="#333" stroke="#333" class="t" text-anchor="middle">M65</text>
<line x1="182.41" x2="182.41" y1="511.2" y2="514.4" stroke="#444" stroke-width="1.3"/>
<text transform="translate(190.71,530.9) rotate(-90)" font-size="11.3" fill="#333" stroke="#333" class="t" text-anchor="middle">M103</text>
<line x1="198.07" x2="198.07" y1="511.2" y2="514.4" stroke="#444" stroke-width="1.3"/>
<text transform="translate(206.37,530.9) rotate(-90)" font-size="11.3" fill="#333" stroke="#333" class="t" text-anchor="middle">M105</text>
<line x1="213.73" x2="213.73" y1="511.2" y2="514.4" stroke="#444" stroke-width="1.3"/>
<text transform="translate(222.03,530.9) rotate(-90)" font-size="11.3" fill="#333" stroke="#333" class="t" text-anchor="middle">M107</text>
<line x1="229.39" x2="229.39" y1="511.2" y2="514.4" stroke="#444" stroke-width="1.3"/>
<text transform="translate(237.69,530.9) rotate(-90)" font-size="11.3" fill="#333" stroke="#333" class="t" text-anchor="middle">M109</text>
<line x1="245.06" x2="245.06" y1="511.2" y2="514.4" stroke="#444" stroke-width="1.3"/>
<text transform="translate(253.36,530.9) rotate(-90)" font-size="11.3" fill="#333" stroke="#333" class="t" text-anchor="middle">M111</text>
<line x1="260.72" x2="260.72" y1="511.2" y2="514.4" stroke="#444" stroke-width="1.3"/>
<text transform="translate(269.02,530.9) rotate(-90)" font-size="11.3" fill="#333" stroke="#333" class="t" text-anchor="middle">M113</text>
<line x1="276.38" x2="276.38" y1="511.2" y2="514.4" stroke="#444" stroke-width="1.3"/>
<text transform="translate(284.68,530.9) rotate(-90)" font-size="11.3" fill="#333" stroke="#333" class="t" text-anchor="middle">M115</text>
<line x1="292.04" x2="292.04" y1="511.2" y2="514.4" stroke="#444" stroke-width="1.3"/>
<text transform="translate(300.34,530.9) rotate(-90)" font-size="11.3" fill="#333" stroke="#333" class="t" text-anchor="middle">M117</text>
<line x1="307.70" x2="307.70" y1="511.2" y2="514.4" stroke="#444" stroke-width="1.3"/>
<text transform="translate(316.00,530.9) rotate(-90)" font-size="11.3" fill="#333" stroke="#333" class="t" text-anchor="middle">M119</text>
<line x1="323.37" x2="323.37" y1="511.2" y2="514.4" stroke="#444" stroke-width="1.3"/>
<text transform="translate(331.67,530.9) rotate(-90)" font-size="11.3" fill="#333" stroke="#333" class="t" text-anchor="middle">M121</text>
<line x1="339.03" x2="339.03" y1="511.2" y2="514.4" stroke="#444" stroke-width="1.3"/>
<text transform="translate(347.33,530.9) rotate(-90)" font-size="11.3" fill="#333" stroke="#333" class="t" text-anchor="middle">M67</text>
<line x1="354.69" x2="354.69" y1="511.2" y2="514.4" stroke="#444" stroke-width="1.3"/>
<text transform="translate(362.99,530.9) rotate(-90)" font-size="11.3" fill="#333" stroke="#333" class="t" text-anchor="middle">M71</text>
<line x1="370.35" x2="370.35" y1="511.2" y2="514.4" stroke="#444" stroke-width="1.3"/>
<text transform="translate(378.65,530.9) rotate(-90)" font-size="11.3" fill="#333" stroke="#333" class="t" text-anchor="middle">M73</text>
<line x1="386.01" x2="386.01" y1="511.2" y2="514.4" stroke="#444" stroke-width="1.3"/>
<text transform="translate(394.31,530.9) rotate(-90)" font-size="11.3" fill="#333" stroke="#333" class="t" text-anchor="middle">M75</text>
<line x1="401.68" x2="401.68" y1="511.2" y2="514.4" stroke="#444" stroke-width="1.3"/>
<text transform="translate(409.98,530.9) rotate(-90)" font-size="11.3" fill="#333" stroke="#333" class="t" text-anchor="middle">M77</text>
<line x1="417.34" x2="417.34" y1="511.2" y2="514.4" stroke="#444" stroke-width="1.3"/>
<text transform="translate(425.64,530.9) rotate(-90)" font-size="11.3" fill="#333" stroke="#333" class="t" text-anchor="middle">M80</text>
<line x1="433.00" x2="433.00" y1="511.2" y2="514.4" stroke="#444" stroke-width="1.3"/>
<text transform="translate(441.30,530.9) rotate(-90)" font-size="11.3" fill="#333" stroke="#333" class="t" text-anchor="middle">M83</text>
<line x1="448.66" x2="448.66" y1="511.2" y2="514.4" stroke="#444" stroke-width="1.3"/>
<text transform="translate(456.96,530.9) rotate(-90)" font-size="11.3" fill="#333" stroke="#333" class="t" text-anchor="middle">M85</text>
<line x1="464.32" x2="464.32" y1="511.2" y2="514.4" stroke="#444" stroke-width="1.3"/>
<text transform="translate(472.62,530.9) rotate(-90)" font-size="11.3" fill="#333" stroke="#333" class="t" text-anchor="middle">M11</text>
<line x1="479.99" x2="479.99" y1="511.2" y2="514.4" stroke="#444" stroke-width="1.3"/>
<text transform="translate(488.29,530.9) rotate(-90)" font-size="11.3" fill="#333" stroke="#333" class="t" text-anchor="middle">M13</text>
<line x1="495.65" x2="495.65" y1="511.2" y2="514.4" stroke="#444" stroke-width="1.3"/>
<text transform="translate(503.95,530.9) rotate(-90)" font-size="11.3" fill="#333" stroke="#333" class="t" text-anchor="middle">M15</text>
<line x1="511.31" x2="511.31" y1="511.2" y2="514.4" stroke="#444" stroke-width="1.3"/>
<text transform="translate(519.61,530.9) rotate(-90)" font-size="11.3" fill="#333" stroke="#333" class="t" text-anchor="middle">M17</text>
<line x1="526.97" x2="526.97" y1="511.2" y2="514.4" stroke="#444" stroke-width="1.3"/>
<text transform="translate(535.27,530.9) rotate(-90)" font-size="11.3" fill="#333" stroke="#333" class="t" text-anchor="middle">M2</text>
<line x1="542.63" x2="542.63" y1="511.2" y2="514.4" stroke="#444" stroke-width="1.3"/>
<text transform="translate(550.93,530.9) rotate(-90)" font-size="11.3" fill="#333" stroke="#333" class="t" text-anchor="middle">M20</text>
<line x1="558.30" x2="558.30" y1="511.2" y2="514.4" stroke="#444" stroke-width="1.3"/>
<text transform="translate(566.60,530.9) rotate(-90)" font-size="11.3" fill="#333" stroke="#333" class="t" text-anchor="middle">M24</text>
<line x1="573.96" x2="573.96" y1="511.2" y2="514.4" stroke="#444" stroke-width="1.3"/>
<text transform="translate(582.26,530.9) rotate(-90)" font-size="11.3" fill="#333" stroke="#333" class="t" text-anchor="middle">M26</text>
<line x1="589.62" x2="589.62" y1="511.2" y2="514.4" stroke="#444" stroke-width="1.3"/>
<text transform="translate(597.92,530.9) rotate(-90)" font-size="11.3" fill="#333" stroke="#333" class="t" text-anchor="middle">M29</text>
<line x1="605.28" x2="605.28" y1="511.2" y2="514.4" stroke="#444" stroke-width="1.3"/>
<text transform="translate(613.58,530.9) rotate(-90)" font-size="11.3" fill="#333" stroke="#333" class="t" text-anchor="middle">M4</text>
<line x1="620.94" x2="620.94" y1="511.2" y2="514.4" stroke="#444" stroke-width="1.3"/>
<text transform="translate(629.24,530.9) rotate(-90)" font-size="11.3" fill="#333" stroke="#333" class="t" text-anchor="middle">M87</text>
<line x1="636.61" x2="636.61" y1="511.2" y2="514.4" stroke="#444" stroke-width="1.3"/>
<text transform="translate(644.91,530.9) rotate(-90)" font-size="11.3" fill="#333" stroke="#333" class="t" text-anchor="middle">M90</text>
<line x1="652.27" x2="652.27" y1="511.2" y2="514.4" stroke="#444" stroke-width="1.3"/>
<text transform="translate(660.57,530.9) rotate(-90)" font-size="11.3" fill="#333" stroke="#333" class="t" text-anchor="middle">M92</text>
<line x1="667.93" x2="667.93" y1="511.2" y2="514.4" stroke="#444" stroke-width="1.3"/>
<text transform="translate(676.23,530.9) rotate(-90)" font-size="11.3" fill="#333" stroke="#333" class="t" text-anchor="middle">M94</text>
<line x1="683.59" x2="683.59" y1="511.2" y2="514.4" stroke="#444" stroke-width="1.3"/>
<text transform="translate(691.89,530.9) rotate(-90)" font-size="11.3" fill="#333" stroke="#333" class="t" text-anchor="middle">M97</text>
<line x1="699.25" x2="699.25" y1="511.2" y2="514.4" stroke="#444" stroke-width="1.3"/>
<text transform="translate(707.55,530.9) rotate(-90)" font-size="11.3" fill="#333" stroke="#333" class="t" text-anchor="middle">M99</text>
<text x="370.6" y="557.8" font-size="13.2" fill="#000" stroke="#000" class="t" text-anchor="middle">Mouse</text>
<text transform="translate(9.8,255.3) rotate(-90)" font-size="13.2" fill="#000" stroke="#000" class="t" text-anchor="middle">Feed Efficiency (%)</text>
</svg></body></html>
